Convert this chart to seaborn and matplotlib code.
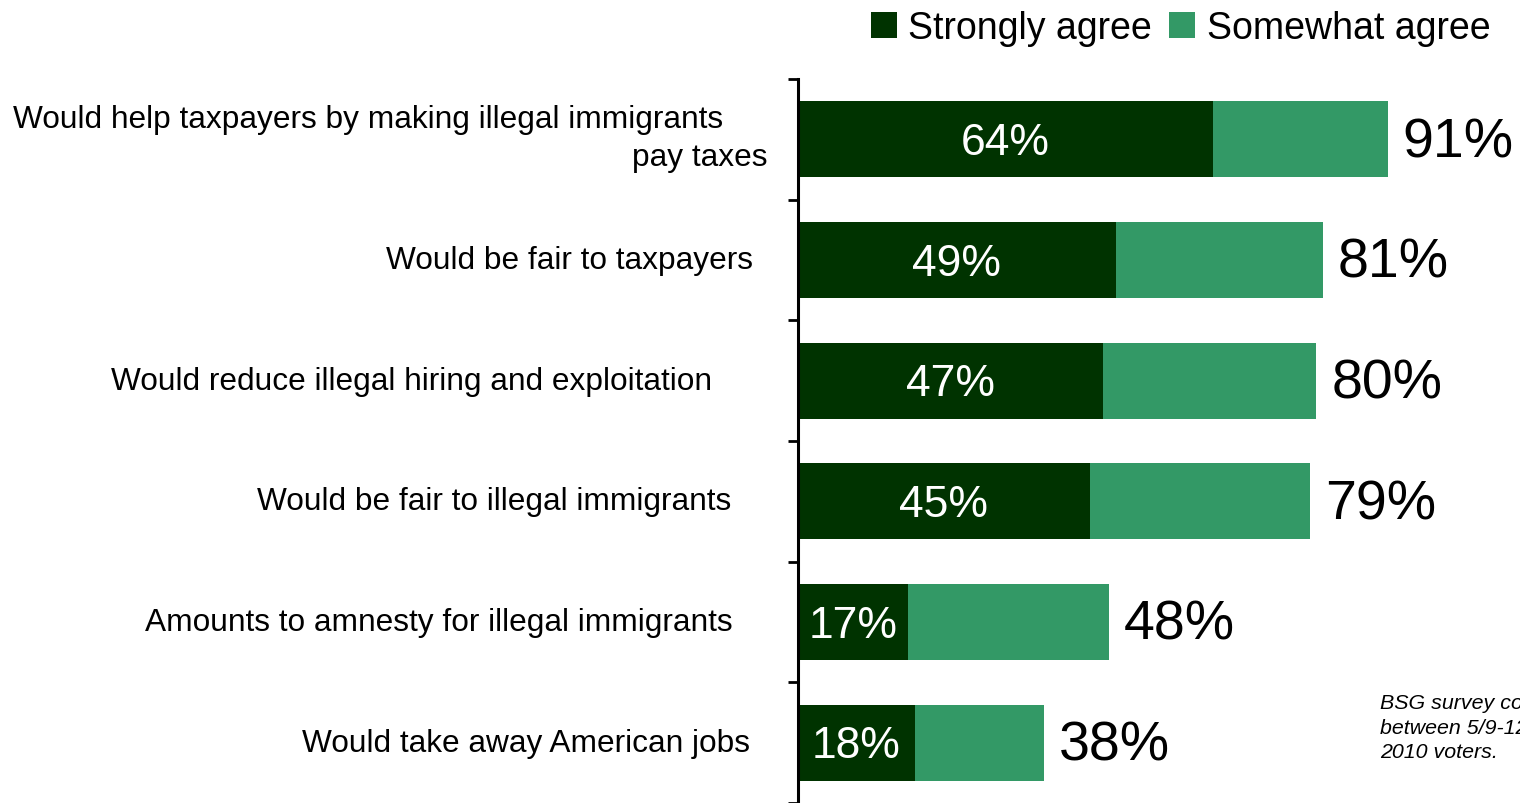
import matplotlib
matplotlib.use("Agg")
import matplotlib.pyplot as plt
from matplotlib.patches import Patch
import seaborn as sns
import pandas as pd

# Survey results: share agreeing with each statement (percent)
categories = [
    "Would help taxpayers by making illegal immigrants\npay taxes",
    "Would be fair to taxpayers",
    "Would reduce illegal hiring and exploitation",
    "Would be fair to illegal immigrants",
    "Amounts to amnesty for illegal immigrants",
    "Would take away American jobs",
]
strongly_agree = [64, 49, 47, 45, 17, 18]
total_agree = [91, 81, 80, 79, 48, 38]
series_names = ["Strongly agree", "Somewhat agree"]
footnote = "BSG survey conducted\nbetween 5/9-12 among 1,000 likely\n2010 voters."

DARK = "#003300"
MID = "#339966"

sns.set_style("white")
plt.rcParams["font.family"] = ["Liberation Sans", "DejaVu Sans"]
plt.rcParams["text.color"] = "black"

df = pd.DataFrame({
    "category": categories,
    "strong": strongly_agree,
    "total": total_agree,
})

fig = plt.figure(figsize=(15.2, 8.04), dpi=100)
ax = fig.add_axes([798 / 1520, 0.0, 648 / 1520, 1 - 80 / 804])

# total bar underneath, "strongly" segment drawn on top
sns.barplot(data=df, x="total", y="category", orient="h", color=MID,
            width=0.63, saturation=1, linewidth=0, ax=ax)
sns.barplot(data=df, x="strong", y="category", orient="h", color=DARK,
            width=0.63, saturation=1, linewidth=0, ax=ax)

ax.set_xlim(0, 100)
ax.set_ylim(len(categories) - 0.5, -0.5)
ax.set_xlabel("")
ax.set_ylabel("")
ax.set_xticks([])
ax.set_yticks([])
ax.set_yticks([i - 0.5 for i in range(len(categories) + 1)], minor=True)
ax.tick_params(axis="y", which="minor", direction="out", length=7, width=2,
               color="black", left=True, labelleft=False)
for side in ["top", "right", "bottom"]:
    ax.spines[side].set_visible(False)
ax.spines["left"].set_color("black")
ax.spines["left"].set_linewidth(2.2)

# value labels
for i, (s, t) in enumerate(zip(strongly_agree, total_agree)):
    ax.annotate(f"{s}%", xy=(s / 2, i), xytext=(0, -3),
                textcoords="offset pixels", ha="center", va="center",
                color="white", fontsize=32)
    ax.annotate(f"{t}%", xy=(t, i), xytext=(15, -3), textcoords="offset pixels",
                ha="left", va="center", fontsize=40, color="black")

# category labels, right-aligned to the left of the axis
label_right_px = [[-75, -30], [-45], [-86], [-67], [-65], [-48]]
label_dy_px = [[20, -18], [0], [0], [0], [0], [0]]
for i, cat in enumerate(categories):
    for line, dx, dy in zip(cat.split("\n"), label_right_px[i], label_dy_px[i]):
        ax.annotate(line, xy=(0, i), xycoords=("axes fraction", "data"),
                    xytext=(dx, dy), textcoords="offset pixels",
                    ha="right", va="center", fontsize=22.8, color="black",
                    annotation_clip=False)

handles = [Patch(facecolor=DARK, edgecolor="none"),
           Patch(facecolor=MID, edgecolor="none")]
fig.legend(handles, series_names, loc="upper right",
           bbox_to_anchor=(1494 / 1520, 1 - 7 / 804), ncol=2, frameon=False,
           fontsize=27, handlelength=0.7, handleheight=0.7,
           handletextpad=0.3, columnspacing=0.45, borderpad=0.1,
           borderaxespad=0)

fig.text(1380 / 1520, 1 - 694 / 804, footnote, ha="left", va="top",
         fontsize=15.4, style="italic", linespacing=1.38, color="black")

fig.savefig("out.png", dpi=100)
